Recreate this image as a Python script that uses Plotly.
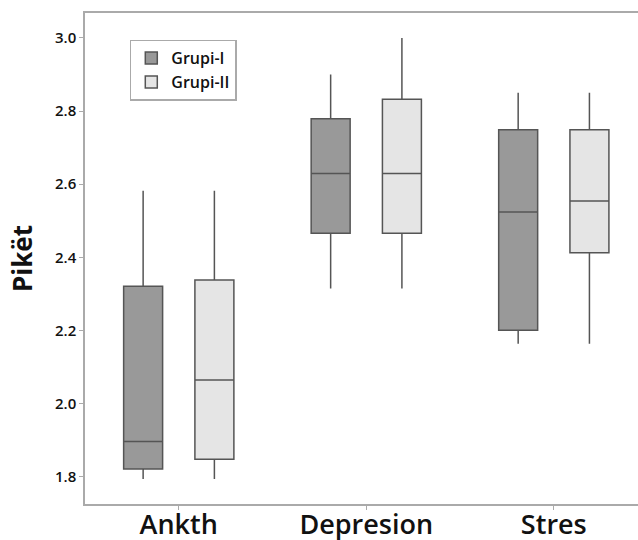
import plotly.graph_objects as go

categories = ["Ankth", "Depresion", "Stres"]

g1_low = [1.794, 2.315, 2.164]
g1_q1 = [1.822, 2.466, 2.201]
g1_med = [1.897, 2.629, 2.524]
g1_q3 = [2.321, 2.779, 2.749]
g1_high = [2.582, 2.900, 2.850]

g2_low = [1.794, 2.315, 2.164]
g2_q1 = [1.848, 2.466, 2.413]
g2_med = [2.065, 2.629, 2.554]
g2_q3 = [2.338, 2.832, 2.749]
g2_high = [2.582, 3.000, 2.850]

y_ticks = [1.8, 2.0, 2.2, 2.4, 2.6, 2.8, 3.0]

FONT = "Open Sans"
LINE = "#555555"
AXIS = "#aaaaaa"

fig = go.Figure()
fig.add_trace(go.Box(
    name="Grupi-I", x=categories, q1=g1_q1, median=g1_med, q3=g1_q3,
    lowerfence=g1_low, upperfence=g1_high,
    fillcolor="#999999", line=dict(color=LINE, width=1.5),
    whiskerwidth=0, boxpoints=False,
))
fig.add_trace(go.Box(
    name="Grupi-II", x=categories, q1=g2_q1, median=g2_med, q3=g2_q3,
    lowerfence=g2_low, upperfence=g2_high,
    fillcolor="#e5e5e5", line=dict(color=LINE, width=1.5),
    whiskerwidth=0, boxpoints=False,
))

fig.update_layout(
    width=638, height=540,
    margin=dict(l=85, r=0, t=13, b=36, autoexpand=False),
    paper_bgcolor="white", plot_bgcolor="white",
    boxmode="group", boxgap=0.24, boxgroupgap=0.453,
    font=dict(family=FONT, color="#111111"),
    showlegend=True,
    legend=dict(
        x=0.081, y=0.9456, xanchor="left", yanchor="top",
        bgcolor="white", bordercolor=AXIS, borderwidth=1.5,
        font=dict(family=FONT, size=16, weight=600),
        tracegroupgap=0, itemwidth=30,
    ),
)
fig.update_xaxes(
    type="category", range=[-0.5, 2.449], automargin=False,
    showline=True, linecolor=AXIS, linewidth=1.5, mirror=True,
    ticks="outside", ticklen=4, tickcolor=AXIS, tickwidth=1,
    ticklabelstandoff=-8,
    showgrid=False, zeroline=False,
    tickfont=dict(family=FONT, size=27, weight=600, color="#111111"),
)
fig.update_yaxes(
    range=[1.726, 3.068], tickvals=y_ticks, tickformat=".1f", automargin=False,
    showline=True, linecolor=AXIS, linewidth=1.5,
    ticks="outside", ticklen=4, tickcolor=AXIS, tickwidth=1,
    showgrid=False, zeroline=False,
    tickfont=dict(family=FONT, size=15, weight=600, color="#111111"),
    title=dict(text="Pikët", font=dict(family=FONT, size=26, weight=700, color="#111111"), standoff=15),
)

fig.write_html(
    "out.html",
    config={"displayModeBar": False},
    post_script="document.body.style.margin='0';document.body.style.overflow='hidden';",
)
